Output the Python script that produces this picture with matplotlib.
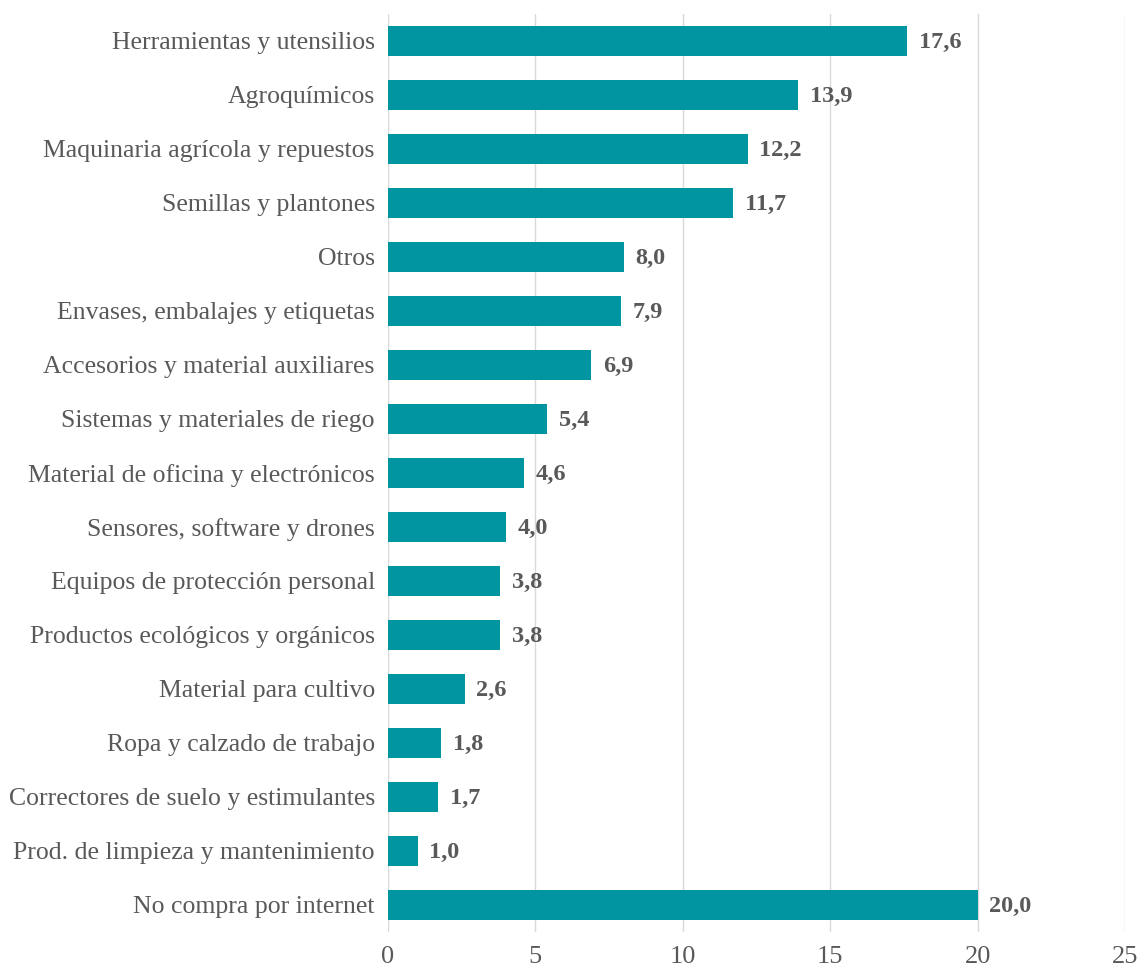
import matplotlib.pyplot as plt

categories = [
    "Herramientas y utensilios",
    "Agroquímicos",
    "Maquinaria agrícola y repuestos",
    "Semillas y plantones",
    "Otros",
    "Envases, embalajes y etiquetas",
    "Accesorios y material auxiliares",
    "Sistemas y materiales de riego",
    "Material de oficina y electrónicos",
    "Sensores, software y drones",
    "Equipos de protección personal",
    "Productos ecológicos y orgánicos",
    "Material para cultivo",
    "Ropa y calzado de trabajo",
    "Correctores de suelo y estimulantes",
    "Prod. de limpieza y mantenimiento",
    "No compra por internet",
]
values = [17.6, 13.9, 12.2, 11.7, 8.0, 7.9, 6.9, 5.4, 4.6, 4.0, 3.8, 3.8, 2.6, 1.8, 1.7, 1.0, 20.0]

bar_color = "#0095A0"
text_color = "#595959"

plt.rcParams["font.family"] = ["Liberation Serif", "DejaVu Serif"]

fig = plt.figure(figsize=(11.46, 9.72), dpi=100)
ax = fig.add_axes([0.3386, 0.0412, 0.6431, 0.9444])

pos = list(range(len(categories)))
ax.barh(pos, values, height=0.54, color=bar_color, zorder=3)

# value labels to the right of each bar, with decimal comma
for p, v in zip(pos, values):
    ax.text(v + 0.4, p + 0.03, f"{v:.1f}".replace(".", ","), va="center", ha="left",
            fontsize=17.5, fontweight="bold", color=text_color, zorder=4)

ax.set_xlim(0, 25)
ax.set_ylim(len(categories) - 0.5, -0.5)
ax.set_xticks([0, 5, 10, 15, 20, 25])
ax.set_yticks(pos)
ax.set_yticklabels(categories)
ax.grid(axis="x", color="#d9d9d9", linewidth=1, zorder=0)
for s in ax.spines.values():
    s.set_visible(False)
ax.tick_params(axis="y", length=0, pad=9.5, labelsize=18.5, labelcolor=text_color)
ax.tick_params(axis="x", length=0, pad=10, labelsize=19, labelcolor=text_color)

fig.savefig("out.png", dpi=100)
